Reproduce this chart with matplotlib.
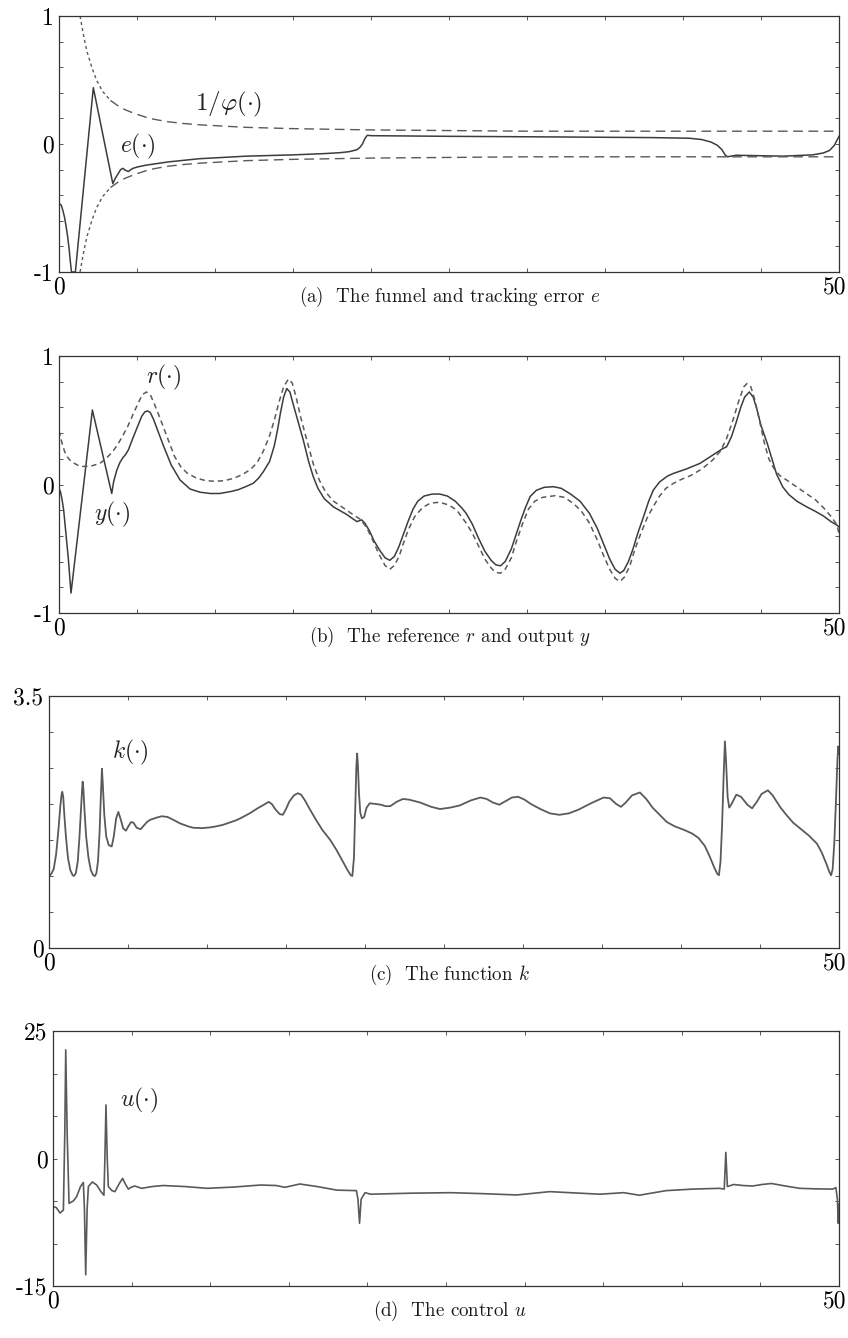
import numpy as np
import matplotlib
matplotlib.use("Agg")
import matplotlib.pyplot as plt
import matplotlib.transforms as mtransforms

plt.rcParams['font.family'] = ['cmr10', 'DejaVu Serif']
plt.rcParams['mathtext.fontset'] = 'cm'
plt.rcParams['axes.formatter.use_mathtext'] = True

# (a) tracking error e and funnel boundary 1/phi
t_e = [0, 0.08, 0.15, 0.25, 0.35, 0.45, 0.55, 0.65, 0.72, 0.8, 1.05, 2.2, 3.45, 3.6, 3.8,
       3.95, 4.1, 4.25, 4.45, 4.6, 4.75, 5.0, 5.6, 7.0, 9.0, 12.0, 15.0, 17.0, 18.0, 18.6,
       19.1, 19.3, 19.45, 19.6, 19.76, 20.0, 25.0, 32.0, 38.0, 40.4, 41.2, 41.8, 42.2, 42.5,
       42.7, 42.85, 43.4, 46.4, 48.3, 49.0, 49.4, 49.7, 50]
e_vals = [-0.48, -0.47, -0.48, -0.52, -0.57, -0.64, -0.72, -0.82, -0.91, -1.0, -1.0, 0.44,
          -0.31, -0.27, -0.23, -0.2, -0.19, -0.205, -0.215, -0.2, -0.19, -0.18, -0.165,
          -0.14, -0.115, -0.095, -0.085, -0.075, -0.068, -0.06, -0.045, -0.025, 0.0, 0.04,
          0.068, 0.065, 0.06, 0.055, 0.05, 0.045, 0.035, 0.015, -0.01, -0.045, -0.085,
          -0.1, -0.088, -0.095, -0.085, -0.07, -0.05, -0.01, 0.06]
t_f = [1.35, 1.6, 1.8, 2.1, 2.4, 2.8, 3.3, 4.0, 4.8, 5.8, 6.9, 8.0, 9.0, 10.5, 12.0,
       15.0, 20.0, 25.0, 30.0, 40.0, 50.0]
phi_inv = [1.0, 0.83, 0.72, 0.6, 0.5, 0.41, 0.34, 0.28, 0.24, 0.2, 0.175, 0.16, 0.15,
           0.14, 0.13, 0.12, 0.11, 0.105, 0.1, 0.1, 0.1]

# (b) reference r and output y
t_y = [0, 0.1, 0.2, 0.3, 0.38, 0.5, 0.6, 0.7, 0.77, 2.14, 3.38, 3.5, 3.7, 3.9, 4.1, 4.25,
       4.45, 4.7, 5.0, 5.3, 5.5, 5.68, 5.85, 6.05, 6.3, 6.7, 7.2, 7.76, 8.4, 9.04, 9.7,
       10.3, 11.0, 11.5, 12.0, 12.46, 12.8, 13.1, 13.5, 13.8, 14.0, 14.2, 14.4, 14.6, 14.8,
       15.0, 15.3, 15.66, 16.0, 16.3, 16.6, 17.0, 17.6, 18.4, 19.1, 19.4, 19.6, 19.9, 20.2,
       20.6, 20.9, 21.2, 21.5, 21.8, 22.1, 22.4, 22.7, 23.0, 23.4, 23.9, 24.4, 24.9, 25.4,
       25.8, 26.1, 26.5, 26.9, 27.3, 27.7, 28.0, 28.3, 28.6, 29.0, 29.3, 29.6, 29.9, 30.2,
       30.6, 31.1, 31.7, 32.2, 32.8, 33.4, 34.0, 34.5, 34.9, 35.3, 35.65, 35.96, 36.2, 36.5,
       36.8, 37.1, 37.5, 37.8, 38.1, 38.5, 39.0, 39.4, 40.2, 41.1, 41.8, 42.5, 42.8, 43.1,
       43.4, 43.7, 43.95, 44.25, 44.5, 44.75, 45.0, 45.2, 45.4, 45.7, 46.0, 46.4, 46.8, 47.3,
       47.9, 48.5, 49.0, 49.5, 49.85, 50]
y_vals = [-0.03, -0.06, -0.12, -0.2, -0.3, -0.45, -0.58, -0.74, -0.845, 0.58, -0.07, 0.02,
          0.11, 0.17, 0.21, 0.23, 0.27, 0.35, 0.44, 0.53, 0.565, 0.573, 0.56, 0.51, 0.43,
          0.3, 0.15, 0.035, -0.035, -0.06, -0.07, -0.07, -0.055, -0.04, -0.015, 0.01, 0.05,
          0.1, 0.18, 0.3, 0.42, 0.56, 0.68, 0.747, 0.72, 0.63, 0.5, 0.345, 0.18, 0.06, -0.03,
          -0.11, -0.175, -0.23, -0.289, -0.275, -0.3, -0.36, -0.44, -0.52, -0.57, -0.59,
          -0.56, -0.48, -0.38, -0.28, -0.19, -0.13, -0.09, -0.075, -0.074, -0.09, -0.13,
          -0.18, -0.224, -0.31, -0.42, -0.52, -0.59, -0.625, -0.633, -0.6, -0.5, -0.39,
          -0.28, -0.18, -0.094, -0.045, -0.022, -0.017, -0.03, -0.075, -0.13, -0.224, -0.34,
          -0.46, -0.58, -0.66, -0.69, -0.67, -0.6, -0.5, -0.38, -0.24, -0.13, -0.043, 0.02,
          0.065, 0.087, 0.12, 0.165, 0.22, 0.276, 0.294, 0.37, 0.48, 0.6, 0.68, 0.72, 0.68,
          0.58, 0.46, 0.39, 0.32, 0.2, 0.08, -0.02, -0.08, -0.13, -0.172, -0.21, -0.245,
          -0.29, -0.315, -0.33]
t_r = [0, 0.1, 0.2, 0.35, 0.5, 0.7, 0.9, 1.2, 1.56, 2.1, 2.63, 3.0, 3.4, 3.7, 4.0, 4.4,
       4.76, 5.1, 5.35, 5.6, 5.85, 6.1, 6.4, 6.9, 7.4, 7.8, 8.2, 8.8, 9.4, 10.0, 10.6, 11.2,
       11.8, 12.3, 12.7, 13.1, 13.5, 13.8, 14.1, 14.4, 14.7, 14.95, 15.2, 15.5, 15.9, 16.3,
       16.7, 17.1, 17.6, 18.2, 18.8, 19.3, 19.7, 20.1, 20.5, 20.9, 21.2, 21.5, 21.8, 22.1,
       22.4, 22.8, 23.3, 23.8, 24.4, 25.0, 25.5, 26.1, 26.5, 26.9, 27.3, 27.7, 28.0, 28.3,
       28.6, 29.0, 29.3, 29.7, 30.1, 30.5, 31.0, 31.8, 32.4, 33.0, 33.5, 34.0, 34.5, 34.9,
       35.3, 35.65, 35.96, 36.25, 36.6, 36.9, 37.3, 37.7, 38.1, 38.5, 38.9, 39.4, 39.9, 40.5,
       41.2, 41.9, 42.4, 42.8, 43.2, 43.6, 43.9, 44.1, 44.35, 44.6, 44.9, 45.2, 45.5, 45.8,
       46.2, 46.7, 47.3, 47.9, 48.5, 49.0, 49.5, 49.85, 50]
r_vals = [0.42, 0.37, 0.32, 0.26, 0.22, 0.19, 0.17, 0.15, 0.14, 0.145, 0.165, 0.2, 0.25,
          0.3, 0.36, 0.45, 0.55, 0.64, 0.7, 0.72, 0.7, 0.63, 0.54, 0.38, 0.22, 0.14, 0.09,
          0.05, 0.03, 0.025, 0.03, 0.048, 0.08, 0.12, 0.17, 0.26, 0.38, 0.5, 0.64, 0.76,
          0.82, 0.79, 0.68, 0.52, 0.34, 0.16, 0.03, -0.06, -0.13, -0.18, -0.23, -0.27,
          -0.33, -0.43, -0.54, -0.63, -0.66, -0.63, -0.56, -0.45, -0.35, -0.25, -0.18,
          -0.145, -0.138, -0.16, -0.2, -0.3, -0.38, -0.48, -0.58, -0.65, -0.685, -0.69,
          -0.66, -0.57, -0.45, -0.31, -0.19, -0.13, -0.1, -0.087, -0.1, -0.15, -0.21, -0.3,
          -0.43, -0.55, -0.66, -0.73, -0.755, -0.72, -0.63, -0.51, -0.38, -0.26, -0.17,
          -0.09, -0.03, 0.01, 0.04, 0.07, 0.12, 0.19, 0.26, 0.36, 0.5, 0.66, 0.76, 0.786,
          0.76, 0.66, 0.5, 0.33, 0.2, 0.13, 0.07, 0.03, -0.02, -0.07, -0.12, -0.18, -0.25,
          -0.31, -0.38]

# (c) gain function k
t_k = [0, 0.15, 0.3, 0.45, 0.6, 0.72, 0.8, 0.84, 0.9, 0.97, 1.07, 1.2, 1.35, 1.5, 1.58,
       1.7, 1.82, 1.93, 2.03, 2.1, 2.13, 2.18, 2.25, 2.35, 2.5, 2.65, 2.8, 2.91, 3.0, 3.1,
       3.2, 3.28, 3.35, 3.4, 3.5, 3.62, 3.78, 3.97, 4.1, 4.25, 4.39, 4.52, 4.7, 4.87, 5.05,
       5.2, 5.35, 5.55, 5.8, 6.0, 6.2, 6.4, 6.8, 7.13, 7.5, 7.87, 8.3, 8.8, 9.13, 9.7, 10.2,
       10.6, 11.0, 11.4, 11.8, 12.1, 12.7, 13.2, 13.6, 13.9, 14.1, 14.35, 14.6, 14.8, 15.0,
       15.2, 15.5, 15.75, 15.95, 16.2, 16.5, 16.9, 17.3, 17.8, 18.2, 18.6, 18.9, 19.1, 19.2,
       19.3, 19.38, 19.45, 19.5, 19.55, 19.62, 19.7, 19.8, 19.95, 20.1, 20.3, 20.7, 21.0,
       21.3, 21.6, 22.0, 22.4, 22.8, 23.5, 24.2, 24.75, 25.4, 26.0, 26.7, 27.3, 27.7, 28.1,
       28.5, 28.9, 29.3, 29.7, 30.1, 30.5, 31.1, 31.7, 32.3, 32.9, 33.5, 34.3, 35.1, 35.5,
       35.9, 36.2, 36.5, 36.9, 37.4, 37.8, 38.2, 38.7, 39.1, 39.6, 40.2, 40.7, 41.1, 41.5,
       41.8, 42.1, 42.3, 42.4, 42.5, 42.6, 42.7, 42.78, 42.85, 42.95, 43.05, 43.2, 43.5,
       43.8, 44.2, 44.5, 44.8, 45.1, 45.5, 45.8, 46.3, 46.7, 47.1, 47.6, 48.1, 48.6, 48.9,
       49.2, 49.4, 49.5, 49.6, 49.7, 49.8, 49.9, 49.95, 50]
k_vals = [1.0, 1.03, 1.1, 1.3, 1.65, 1.98, 2.14, 2.17, 2.1, 1.85, 1.55, 1.25, 1.08, 1.01,
          1.0, 1.04, 1.2, 1.55, 1.95, 2.22, 2.31, 2.2, 1.9, 1.55, 1.25, 1.08, 1.01, 1.0, 1.04,
          1.2, 1.6, 2.1, 2.49, 2.3, 1.85, 1.55, 1.43, 1.41, 1.55, 1.8, 1.89, 1.8, 1.66, 1.63,
          1.7, 1.75, 1.74, 1.67, 1.65, 1.7, 1.75, 1.78, 1.81, 1.83, 1.82, 1.78, 1.73, 1.69,
          1.67, 1.665, 1.675, 1.69, 1.71, 1.74, 1.77, 1.8, 1.87, 1.94, 1.99, 2.03, 2.0, 1.92,
          1.86, 1.85, 1.93, 2.03, 2.12, 2.15, 2.13, 2.05, 1.93, 1.78, 1.64, 1.5, 1.36, 1.2,
          1.08, 1.01, 1.0, 1.25, 1.9, 2.5, 2.7, 2.55, 2.15, 1.88, 1.8, 1.82, 1.95, 2.01, 2.0,
          1.99, 1.97, 1.97, 2.03, 2.07, 2.06, 2.02, 1.96, 1.93, 1.95, 1.98, 2.05, 2.09, 2.07,
          2.02, 1.99, 2.04, 2.09, 2.1, 2.06, 2.0, 1.93, 1.87, 1.85, 1.87, 1.92, 2.01, 2.09,
          2.08, 2.0, 1.96, 2.02, 2.12, 2.16, 2.07, 1.95, 1.84, 1.75, 1.69, 1.64, 1.59, 1.53,
          1.42, 1.28, 1.12, 1.03, 1.01, 1.2, 1.7, 2.4, 2.87, 2.6, 2.1, 1.95, 2.0, 2.13, 2.1,
          1.99, 1.94, 2.03, 2.14, 2.19, 2.12, 1.95, 1.84, 1.74, 1.65, 1.56, 1.45, 1.33, 1.17,
          1.05, 1.01, 1.1, 1.45, 2.0, 2.6, 2.8, 2.7]

# (d) control u
t_u = [0, 0.2, 0.45, 0.66, 0.75, 0.81, 0.9, 1.02, 1.3, 1.5, 1.75, 1.93, 2.0, 2.08, 2.17,
       2.25, 2.5, 2.78, 3.05, 3.24, 3.3, 3.37, 3.45, 3.52, 3.75, 3.94, 4.2, 4.43, 4.6, 4.79,
       5.0, 5.2, 5.64, 6.3, 7.0, 8.4, 9.8, 11.5, 13.2, 14.2, 14.75, 15.7, 16.8, 18.05, 19.3,
       19.4, 19.5, 19.6, 19.85, 20.2, 22.8, 25.3, 27.4, 29.5, 31.6, 33.5, 34.8, 36.3, 37.3,
       39.0, 40.7, 42.4, 42.7, 42.8, 42.9, 43.3, 43.9, 44.5, 45.1, 45.7, 46.6, 47.5, 48.5,
       49.6, 49.8, 49.9, 49.95, 50]
u_vals = [-9.45, -9.6, -10.7, -10.1, 5.0, 21.3, 5.0, -8.8, -8.3, -7.5, -5.5, -4.7, -10.0,
          -22.8, -10.0, -5.5, -4.6, -5.2, -6.5, -7.2, 0.0, 10.5, 0.0, -5.5, -6.3, -6.5, -5.0,
          -3.9, -5.0, -6.0, -5.6, -5.4, -5.85, -5.5, -5.3, -5.5, -5.85, -5.6, -5.2, -5.3,
          -5.65, -5.0, -5.5, -6.2, -6.3, -8.0, -12.7, -8.0, -6.7, -7.0, -6.8, -6.7, -6.9,
          -7.15, -6.5, -6.8, -7.0, -6.7, -7.2, -6.3, -6.0, -5.85, -6.0, 1.2, -5.5, -5.1,
          -5.3, -5.4, -5.1, -4.9, -5.4, -5.85, -5.95, -6.0, -5.7, -8.0, -12.7, -9.0]

W, H = 848, 1338
fig = plt.figure(figsize=(W / 100, H / 100), dpi=100)


def px_axes(left, top, right, bottom):
    return fig.add_axes([left / W, 1 - bottom / H, (right - left) / W, (bottom - top) / H])


def style(ax, ylim, yticks, ylabels):
    ax.set_xlim(0, 50)
    ax.set_ylim(*ylim)
    ax.set_xticks(np.arange(0, 51, 5))
    ax.set_xticklabels(['0'] + [''] * 9 + ['50'])
    ax.set_yticks(yticks)
    ax.set_yticklabels(ylabels)
    ax.tick_params(direction='in', length=3, width=0.7, color='#555555',
                   top=True, right=True, labelsize=17, pad=4)
    ax.tick_params(axis='x', pad=3)
    for sp in ax.spines.values():
        sp.set_linewidth(0.9)
        sp.set_color('#333333')
    # keep "50" inside the picture
    lab = ax.get_xticklabels()[-1]
    lab.set_horizontalalignment('right')
    lab.set_transform(lab.get_transform() + mtransforms.ScaledTranslation(0.07, 0, fig.dpi_scale_trans))


line_c = '#3c3c3c'
gray_c = '#5a5a5a'

# (a)
ax1 = px_axes(59, 16, 839, 272)
ax1.plot(t_e, e_vals, color=line_c, lw=1.1)
split = 7
f_up = np.array(phi_inv)
for sign in (1, -1):
    ax1.plot(t_f[:split], sign * f_up[:split], color=gray_c, lw=1.0, dashes=(2.2, 2.2))
    ax1.plot(t_f[split - 1:], sign * f_up[split - 1:], color=gray_c, lw=1.0, dashes=(7, 4))
style(ax1, (-1, 1), np.linspace(-1, 1, 11), ['-1'] + [''] * 4 + ['0'] + [''] * 4 + ['1'])
ax1.text(10.9, 0.31, r'$1/\varphi(\cdot)$', fontsize=18, ha='center', va='center', color='#222222')
ax1.text(5.03, -0.016, r'$e(\cdot)$', fontsize=17, ha='center', va='center', color='#222222')

# (b)
ax2 = px_axes(59, 356, 839, 613)
ax2.plot(t_y, y_vals, color=line_c, lw=1.1)
ax2.plot(t_r, r_vals, color=gray_c, lw=1.1, dashes=(3.5, 2.5))
style(ax2, (-1, 1), np.linspace(-1, 1, 11), ['-1'] + [''] * 4 + ['0'] + [''] * 4 + ['1'])
ax2.text(6.73, 0.83, r'$r(\cdot)$', fontsize=17, ha='center', va='center', color='#222222')
ax2.text(3.4, -0.23, r'$y(\cdot)$', fontsize=17, ha='center', va='center', color='#222222')

# (c)
ax3 = px_axes(49, 696, 839, 948)
ax3.plot(t_k, k_vals, color=gray_c, lw=1.3)
style(ax3, (0, 3.5), np.arange(0, 3.51, 0.5), ['0'] + [''] * 6 + ['3.5'])
ax3.text(5.13, 2.71, r'$k(\cdot)$', fontsize=17, ha='center', va='center', color='#222222')

# (d)
ax4 = px_axes(53, 1031, 839, 1286)
ax4.plot(t_u, u_vals, color=gray_c, lw=1.2)
style(ax4, (-25, 25), np.linspace(-25, 25, 7), ['-15', '', '', '0', '', '', '25'])
ax4.text(5.47, 11.3, r'$u(\cdot)$', fontsize=17, ha='center', va='center', color='#222222')

captions = [(297, r'(a)  The funnel and tracking error $e$'),
            (637, r'(b)  The reference $r$ and output $y$'),
            (975, r'(c)  The function $k$'),
            (1311, r'(d)  The control $u$')]
for ypx, txt in captions:
    fig.text(450 / W, 1 - ypx / H, txt, fontsize=13.7, ha='center', va='center', color='#1a1a1a')

plt.savefig('out.png', dpi=100)
